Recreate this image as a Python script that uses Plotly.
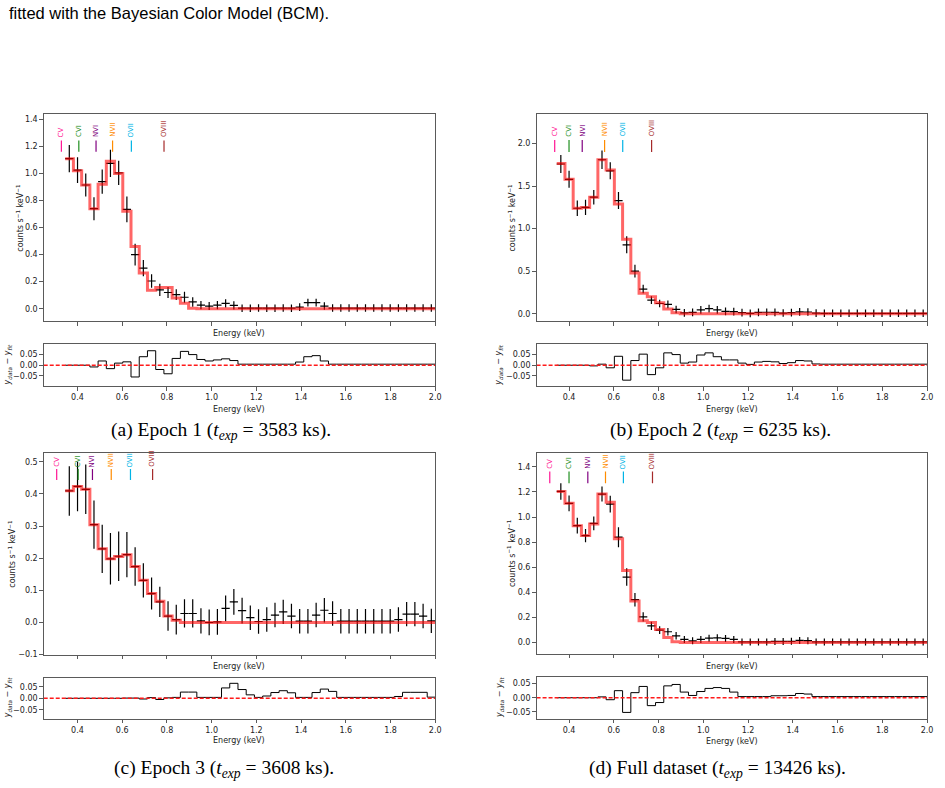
import plotly.graph_objects as go

# ---------------- data ----------------
energy_edges = [0.345, 0.3818, 0.4186, 0.4554, 0.4922, 0.529, 0.5658, 0.6026, 0.6394, 0.6762,
                0.713, 0.7498, 0.7866, 0.8234, 0.8602, 0.897, 0.9338, 0.9706, 1.0074, 1.0442,
                1.081, 1.1178, 1.1546, 1.1914, 1.2282, 1.265, 1.3018, 1.3386, 1.3754, 1.4122,
                1.449, 1.4858, 1.5226, 1.5594, 1.5962, 1.633, 1.6698, 1.7066, 1.7434, 1.7802,
                1.817, 1.8538, 1.8906, 1.9274, 1.9642, 2.001]

ion_names = ["CV", "CVI", "NVI", "NVII", "OVII", "OVIII"]
ion_colors = ["#ff1493", "#1f8f1f", "#800080", "#ff8c00", "#00b4e6", "#a52a2a"]

ion_energy_a = [0.328, 0.406, 0.483, 0.557, 0.641, 0.787]
ion_energy_b = [0.336, 0.400, 0.459, 0.559, 0.640, 0.769]
ion_energy_c = [0.307, 0.403, 0.467, 0.551, 0.637, 0.736]
ion_energy_d = [0.314, 0.400, 0.484, 0.563, 0.643, 0.773]

# Epoch 1
rate_a = [1.11, 1.025, 0.915, 0.74, 0.94, 1.075, 1.005, 0.735, 0.40, 0.30,
          0.205, 0.14, 0.12, 0.105, 0.085, 0.05, 0.027, 0.02, 0.027, 0.04,
          0.025, 0.004, 0.004, 0.005, 0.004, 0.004, 0.005, 0.004, 0.012, 0.045,
          0.045, 0.02, 0.005, 0.005, 0.005, 0.005, 0.005, 0.005, 0.005, 0.005,
          0.005, 0.005, 0.005, 0.005, 0.005]
rate_err_a = [0.10, 0.095, 0.085, 0.085, 0.09, 0.10, 0.09, 0.095, 0.08, 0.06,
              0.05, 0.045, 0.04, 0.04, 0.04, 0.035, 0.03, 0.03, 0.03, 0.03,
              0.03, 0.028, 0.028, 0.028, 0.028, 0.028, 0.028, 0.028, 0.028, 0.028,
              0.028, 0.028, 0.028, 0.028, 0.028, 0.028, 0.028, 0.028, 0.028, 0.028,
              0.028, 0.028, 0.028, 0.028, 0.028]
model_a = [1.11, 1.02, 0.915, 0.74, 0.92, 1.09, 1.0, 0.72, 0.46, 0.265,
           0.137, 0.157, 0.157, 0.08, 0.04, 0.003, 0.0, 0.0, 0.0, 0.0,
           0.0, 0.0, 0.0, 0.0, 0.0, 0.0, 0.0, 0.0, 0.0, 0.0,
           0.0, 0.0, 0.0, 0.0, 0.0, 0.0, 0.0, 0.0, 0.0, 0.0,
           0.0, 0.0, 0.0, 0.0, 0.0]
resid_a = [0.0, 0.0, 0.0, -0.008, 0.02, -0.016, 0.01, 0.016, -0.055, 0.04,
           0.068, -0.02, -0.04, 0.032, 0.065, 0.05, 0.027, 0.02, 0.025, 0.03,
           0.022, 0.005, 0.005, 0.005, 0.005, 0.005, 0.005, 0.005, 0.015, 0.04,
           0.045, 0.02, 0.005, 0.005, 0.005, 0.005, 0.005, 0.005, 0.005, 0.005,
           0.005, 0.005, 0.005, 0.005, 0.005]

# Epoch 2
rate_b = [1.76, 1.58, 1.24, 1.25, 1.37, 1.81, 1.68, 1.33, 0.81, 0.50,
          0.29, 0.16, 0.12, 0.11, 0.05, 0.01, 0.015, 0.045, 0.06, 0.045,
          0.028, 0.025, 0.012, 0.004, 0.015, 0.017, 0.015, 0.008, 0.013, 0.022,
          0.02, 0.006, 0.005, 0.005, 0.005, 0.005, 0.005, 0.005, 0.005, 0.005,
          0.005, 0.005, 0.005, 0.005, 0.005]
rate_err_b = [0.105, 0.10, 0.09, 0.09, 0.085, 0.11, 0.10, 0.10, 0.10, 0.075,
              0.05, 0.045, 0.045, 0.045, 0.045, 0.045, 0.045, 0.045, 0.045, 0.045,
              0.045, 0.045, 0.045, 0.045, 0.045, 0.045, 0.045, 0.045, 0.045, 0.045,
              0.045, 0.045, 0.045, 0.045, 0.045, 0.045, 0.045, 0.045, 0.045, 0.045,
              0.045, 0.045, 0.045, 0.045, 0.045]
model_b = [1.765, 1.58, 1.24, 1.25, 1.37, 1.81, 1.69, 1.29, 0.875, 0.48,
           0.24, 0.20, 0.13, 0.055, 0.01, 0.0, 0.0, 0.0, 0.0, 0.0,
           0.0, 0.0, 0.0, 0.0, 0.0, 0.0, 0.0, 0.0, 0.0, 0.0,
           0.0, 0.0, 0.0, 0.0, 0.0, 0.0, 0.0, 0.0, 0.0, 0.0,
           0.0, 0.0, 0.0, 0.0, 0.0]
resid_b = [0.0, 0.0, 0.0, 0.0, -0.003, 0.005, -0.012, 0.042, -0.07, 0.022,
           0.052, -0.044, -0.012, 0.058, 0.05, 0.01, 0.015, 0.048, 0.058, 0.04,
           0.025, 0.025, 0.01, 0.004, 0.015, 0.018, 0.016, 0.008, 0.012, 0.022,
           0.02, 0.006, 0.005, 0.005, 0.005, 0.005, 0.005, 0.005, 0.005, 0.005,
           0.005, 0.005, 0.005, 0.005, 0.005]

# Epoch 3
rate_c = [0.409, 0.423, 0.414, 0.304, 0.229, 0.198, 0.206, 0.211, 0.174, 0.131,
          0.09, 0.064, 0.02, 0.009, 0.028, 0.028, 0.005, 0.0, 0.002, 0.044,
          0.064, 0.037, 0.015, 0.003, 0.009, 0.023, 0.033, 0.02, 0.004, 0.004,
          0.023, 0.038, 0.028, 0.004, 0.004, 0.004, 0.004, 0.004, 0.004, 0.004,
          0.009, 0.026, 0.026, 0.02, 0.005]
rate_err_c = [0.077, 0.077, 0.077, 0.075, 0.075, 0.08, 0.077, 0.07, 0.06, 0.053,
              0.05, 0.047, 0.046, 0.046, 0.044, 0.044, 0.039, 0.04, 0.04, 0.04,
              0.04, 0.04, 0.038, 0.038, 0.038, 0.038, 0.038, 0.038, 0.038, 0.038,
              0.038, 0.038, 0.038, 0.038, 0.038, 0.038, 0.038, 0.038, 0.038, 0.038,
              0.038, 0.038, 0.038, 0.038, 0.038]
model_c = [0.41, 0.423, 0.414, 0.304, 0.229, 0.198, 0.205, 0.211, 0.174, 0.131,
           0.09, 0.066, 0.02, 0.007, 0.0, 0.0, 0.0, 0.0, 0.0, 0.0,
           0.0, 0.0, 0.0, 0.0, 0.0, 0.0, 0.0, 0.0, 0.0, 0.0,
           0.0, 0.0, 0.0, 0.0, 0.0, 0.0, 0.0, 0.0, 0.0, 0.0,
           0.0, 0.0, 0.0, 0.0, 0.0]
resid_c = [0.0, 0.0, 0.0, 0.0, 0.0, 0.0, 0.0, 0.001, 0.001, -0.003,
           0.003, -0.005, 0.002, 0.004, 0.027, 0.027, 0.004, 0.004, 0.004, 0.045,
           0.065, 0.038, 0.015, 0.004, 0.01, 0.025, 0.033, 0.024, 0.004, 0.004,
           0.025, 0.04, 0.03, 0.004, 0.004, 0.004, 0.004, 0.004, 0.004, 0.004,
           0.008, 0.026, 0.026, 0.026, 0.005]

# Full dataset
rate_d = [1.204, 1.109, 0.931, 0.852, 0.95, 1.183, 1.103, 0.839, 0.521, 0.341,
          0.204, 0.132, 0.098, 0.085, 0.053, 0.024, 0.013, 0.024, 0.034, 0.037,
          0.032, 0.024, 0.004, 0.004, 0.004, 0.004, 0.008, 0.008, 0.009, 0.016,
          0.014, 0.004, 0.004, 0.004, 0.004, 0.004, 0.004, 0.004, 0.004, 0.004,
          0.004, 0.004, 0.004, 0.004, 0.004]
rate_err_d = [0.066, 0.062, 0.063, 0.053, 0.055, 0.06, 0.066, 0.08, 0.07, 0.054,
              0.037, 0.033, 0.03, 0.03, 0.03, 0.028, 0.028, 0.028, 0.028, 0.028,
              0.028, 0.028, 0.028, 0.028, 0.028, 0.028, 0.028, 0.028, 0.028, 0.028,
              0.028, 0.028, 0.028, 0.028, 0.028, 0.028, 0.028, 0.028, 0.028, 0.028,
              0.028, 0.028, 0.028, 0.028, 0.028]
model_d = [1.204, 1.109, 0.931, 0.852, 0.945, 1.183, 1.117, 0.826, 0.574, 0.331,
           0.172, 0.159, 0.103, 0.04, 0.005, 0.0, 0.0, 0.0, 0.0, 0.0,
           0.0, 0.0, 0.0, 0.0, 0.0, 0.0, 0.0, 0.0, 0.0, 0.0,
           0.0, 0.0, 0.0, 0.0, 0.0, 0.0, 0.0, 0.0, 0.0, 0.0,
           0.0, 0.0, 0.0, 0.0, 0.0]
resid_d = [0.0, 0.0, 0.0, 0.0, 0.0, 0.003, -0.007, 0.025, -0.052, 0.018,
           0.04, -0.028, -0.017, 0.042, 0.047, 0.02, 0.008, 0.022, 0.033, 0.036,
           0.033, 0.02, 0.004, 0.004, 0.004, 0.004, 0.007, 0.007, 0.008, 0.015,
           0.013, 0.004, 0.004, 0.004, 0.004, 0.004, 0.004, 0.004, 0.004, 0.004,
           0.004, 0.004, 0.004, 0.004, 0.004]

captions = ["(a) Epoch 1 (<i>t</i><sub><i>exp</i></sub> = 3583 ks).",
            "(b) Epoch 2 (<i>t</i><sub><i>exp</i></sub> = 6235 ks).",
            "(c) Epoch 3 (<i>t</i><sub><i>exp</i></sub> = 3608 ks).",
            "(d) Full dataset (<i>t</i><sub><i>exp</i></sub> = 13426 ks)."]

# ---------------- layout helpers ----------------
W, H = 945, 788
def fx(px):
    return px / W
def fy(py):
    return 1 - py / H

centers = [(lo + hi) / 2 for lo, hi in zip(energy_edges[:-1], energy_edges[1:])]
halfw = [(hi - lo) / 2 for lo, hi in zip(energy_edges[:-1], energy_edges[1:])]

panels = [
    dict(rate=rate_a, err=rate_err_a, model=model_a, resid=resid_a, ions=ion_energy_a,
         main=(44, 438, 115, 323), res=(44, 438, 346, 388),
         yr=[-0.097, 0.0986], rr_=None, dt=0.2, xr=[0.249, 2.0],
         lab=(1.161, 1.245, 1.262), ylx=20, rylx=8.3,
         e1y=335, e2y=411.5, cap=(222.5, 433)),
    dict(rate=rate_b, err=rate_err_b, model=model_b, resid=resid_b, ions=ion_energy_b,
         main=(540, 933, 115, 323), res=(540, 933, 346, 388),
         yr=None, rr_=None, dt=0.5, xr=[0.255, 2.0],
         lab=(1.902, 2.042, 2.07), ylx=515, rylx=502.7,
         e1y=335, e2y=411.5, cap=(725.5, 433)),
    dict(rate=rate_c, err=rate_err_c, model=model_c, resid=resid_c, ions=ion_energy_c,
         main=(44, 438, 455, 658.3), res=(44, 438, 681, 722.3),
         yr=None, rr_=None, dt=0.1, xr=[0.249, 2.0],
         lab=(0.443, 0.477, 0.48), ylx=12, rylx=8.3,
         e1y=670, e2y=744.5, cap=(225.8, 773)),
    dict(rate=rate_d, err=rate_err_d, model=model_d, resid=resid_d, ions=ion_energy_d,
         main=(540, 933, 455, 657.3), res=(540, 933, 680, 722.3),
         yr=None, rr_=None, dt=0.2, xr=[0.255, 2.0],
         lab=(1.27, 1.363, 1.375), ylx=515, rylx=502.7,
         e1y=670, e2y=745, cap=(721.7, 773)),
]
main_ranges = [[-0.0934, 1.437], [-0.09, 2.343], [-0.101, 0.528], [-0.092, 1.513]]
resid_ranges = [[-0.0975, 0.0985], [-0.0975, 0.0985], [-0.088, 0.09], [-0.074, 0.075]]

fig = go.Figure()
layout = dict(width=W, height=H, margin=dict(l=0, r=0, t=0, b=0),
              paper_bgcolor="white", plot_bgcolor="white", showlegend=False)
annotations = []
shapes = []

AXC = "#5a5a5a"
TICKFONT = dict(family="DejaVu Sans", size=8, color="#222")
common = dict(showline=True, linecolor=AXC, linewidth=1, mirror=True, ticks="outside",
              ticklen=3.5, tickwidth=0.8, tickcolor=AXC, showgrid=False, zeroline=False,
              tickfont=TICKFONT)

for i, p in enumerate(panels):
    m = 2 * i + 1
    r = 2 * i + 2
    xm, ym, xr_, yr_ = f"x{m}", f"y{m}", f"x{r}", f"y{r}"
    # data points with error bars
    fig.add_trace(go.Scatter(x=centers, y=p["rate"], mode="markers",
                             marker=dict(size=1, color="black"),
                             error_y=dict(type="data", array=p["err"], thickness=1.2, width=0, color="black"),
                             error_x=dict(type="data", array=halfw, thickness=1.2, width=0, color="black"),
                             xaxis=xm, yaxis=ym, hoverinfo="skip"))
    # model step line
    fig.add_trace(go.Scatter(x=energy_edges, y=p["model"] + [p["model"][-1]], mode="lines",
                             line=dict(shape="hv", color="rgba(255,0,0,0.6)", width=3),
                             xaxis=xm, yaxis=ym, hoverinfo="skip"))
    # residual step line
    fig.add_trace(go.Scatter(x=energy_edges, y=p["resid"] + [p["resid"][-1]], mode="lines",
                             line=dict(shape="hv", color="black", width=1),
                             xaxis=xr_, yaxis=yr_, hoverinfo="skip"))
    # zero reference line in residual panel
    fig.add_trace(go.Scatter(x=p["xr"], y=[0, 0], mode="lines",
                             line=dict(color="#ff1a1a", width=1.4, dash="4px,2px"),
                             xaxis=xr_, yaxis=yr_, hoverinfo="skip"))

    x0, x1, y0, y1 = p["main"]
    rx0, rx1, ry0, ry1 = p["res"]
    sfx = "" if m == 1 else str(m)
    sfr = str(r)
    layout["xaxis" + sfx] = dict(common, domain=[fx(x0), fx(x1)], range=p["xr"], anchor=ym,
                                 dtick=0.2, tick0=0, showticklabels=False)
    layout["yaxis" + sfx] = dict(common, domain=[fy(y1), fy(y0)], range=main_ranges[i], anchor=xm,
                                 dtick=p["dt"], tick0=0, tickformat=".1f")
    layout["xaxis" + sfr] = dict(common, domain=[fx(rx0), fx(rx1)], range=p["xr"], anchor=yr_,
                                 dtick=0.2, tick0=0, tickformat=".1f")
    layout["yaxis" + sfr] = dict(common, domain=[fy(ry1), fy(ry0)], range=resid_ranges[i], anchor=xr_,
                                 tickvals=[-0.05, 0.0, 0.05], ticktext=["\u22120.05", "0.00", "0.05"])

    # ion labels
    ly0, ly1, ty = p["lab"]
    for name, col, e in zip(ion_names, ion_colors, p["ions"]):
        shapes.append(dict(type="line", xref=xm, yref=ym, x0=e, x1=e, y0=ly0, y1=ly1,
                           line=dict(color=col, width=1.2)))
        annotations.append(dict(text=name, x=e, y=ty, xref=xm, yref=ym, showarrow=False,
                                textangle=-90, xanchor="center", yanchor="bottom",
                                font=dict(family="DejaVu Sans", size=7, color=col),
                                borderpad=0))

    # axis titles
    annotations.append(dict(text="counts s<sup>\u22121</sup> keV<sup>\u22121</sup>",
                            x=fx(p["ylx"]), y=fy((y0 + y1) / 2), xref="paper", yref="paper",
                            showarrow=False, textangle=-90, xanchor="center", yanchor="middle",
                            font=dict(family="DejaVu Sans", size=8, color="#222")))
    annotations.append(dict(text="<i>y</i><sub><i>data</i></sub> \u2212 <i>y</i><sub><i>fit</i></sub>",
                            x=fx(p["rylx"]), y=fy((ry0 + ry1) / 2), xref="paper", yref="paper",
                            showarrow=False, textangle=-90, xanchor="center", yanchor="middle",
                            font=dict(family="DejaVu Sans", size=8, color="#222")))
    for ey in (p["e1y"], p["e2y"]):
        annotations.append(dict(text="Energy (keV)", x=fx((x0 + x1) / 2), y=fy(ey),
                                xref="paper", yref="paper", showarrow=False,
                                xanchor="center", yanchor="middle",
                                font=dict(family="DejaVu Sans", size=8, color="#222")))
    # caption
    cx, cy = p["cap"]
    annotations.append(dict(text=captions[i], x=fx(cx), y=fy(cy), xref="paper", yref="paper",
                            showarrow=False, xanchor="center", yanchor="middle",
                            font=dict(family="Liberation Serif", size=19.5, color="black")))

annotations.append(dict(text="fitted with the Bayesian Color Model (BCM).", x=fx(7), y=fy(13.3),
                        xref="paper", yref="paper", showarrow=False, xanchor="left", yanchor="middle",
                        font=dict(family="Liberation Sans", size=16.5, color="black")))

layout["annotations"] = annotations
layout["shapes"] = shapes
fig.update_layout(**layout)
fig.write_html("out.html")
